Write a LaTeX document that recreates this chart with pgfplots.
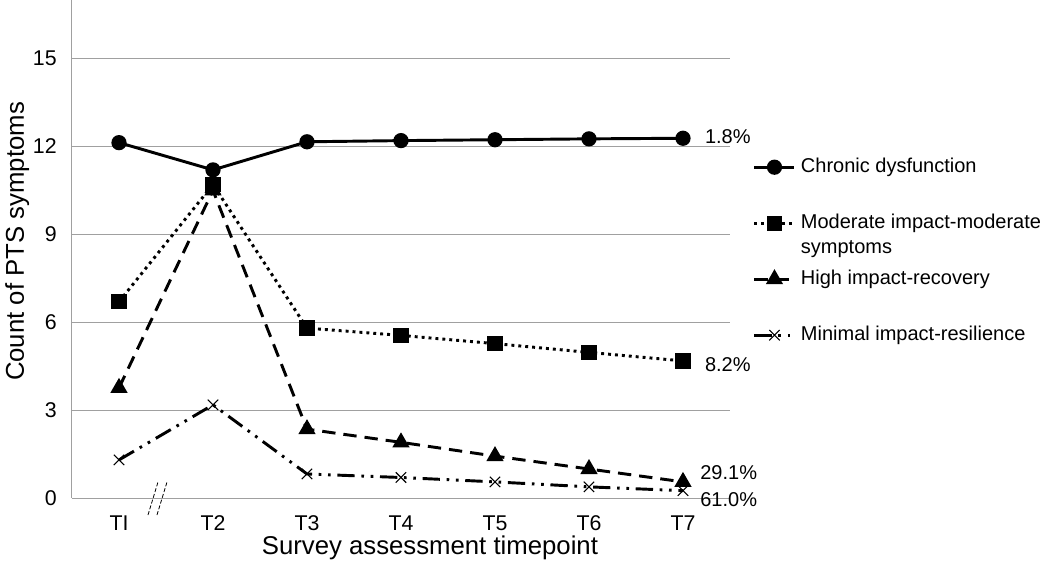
\documentclass[border=0pt]{standalone}
\usepackage{pgfplots}
\pgfplotsset{compat=1.18}
\usepackage{fontspec}
\setmainfont{Liberation Sans}
\definecolor{gridgray}{RGB}{160,160,160}

\begin{document}
\begin{tikzpicture}
\begin{axis}[
  scale only axis, width=493.5pt, height=373.5pt,
  xmin=-0.5, xmax=6.5, ymin=0, ymax=17,
  xtick={0,...,6}, xticklabels={TI,T2,T3,T4,T5,T6,T7},
  ytick={0,3,6,9,12,15},
  ymajorgrids, grid style={gridgray, line width=0.75pt},
  axis x line*=bottom, axis y line*=left,
  axis line style={gridgray, line width=0.75pt, -},
  major tick length=0pt,
  /pgf/number format/assume math mode=true,
  yticklabel style={font=\fontsize{16}{19}\selectfont, xshift=-8pt},
  xticklabel style={font=\fontsize{16}{19}\selectfont, yshift=-10pt},
  xlabel={Survey assessment timepoint},
  ylabel={Count of PTS symptoms},
  every axis x label/.style={at={(axis description cs:0.544,0)}, yshift=-37.5pt, anchor=center, font=\fontsize{19.3}{23}\selectfont},
  every axis y label/.style={at={(axis description cs:0,0.515)}, xshift=-41pt, anchor=center, rotate=90, font=\fontsize{19.3}{23}\selectfont},
  clip=false,
  reverse legend,
  legend cell align=left,
  legend style={at={(axis description cs:1.035,0.683)}, anchor=north west, draw=none, fill=none, inner sep=0pt, outer sep=0pt, row sep=28pt, column sep=3.75pt, font=\fontsize{15}{18.5}\selectfont, nodes={inner sep=0pt, text height=11pt, text depth=3pt}},
  legend image code/.code={\draw[mark repeat=2,mark phase=2,#1] plot coordinates {(0pt,0pt)(15pt,0pt)(30pt,0pt)};},
  every axis plot/.append style={line width=2.2pt, black},
]
% Minimal impact-resilience
\addplot[dash pattern=on 13pt off 5pt on 2pt off 5pt on 2pt off 5pt, mark=x, mark size=5.5pt, mark options={solid, line width=0.8pt}]
  coordinates {(0,1.3) (1,3.18) (2,0.82) (3,0.7) (4,0.55) (5,0.38) (6,0.25)};
\addlegendentry{Minimal impact-resilience}
% High impact-recovery
\addplot[dash pattern=on 10pt off 6pt, mark=triangle*, mark size=5.3pt, mark options={solid}]
  coordinates {(0,3.76) (1,10.5) (2,2.35) (3,1.9) (4,1.43) (5,0.99) (6,0.55)};
\addlegendentry{High impact-recovery}
% Moderate impact-moderate symptoms
\addplot[dash pattern=on 2.2pt off 3pt, mark=square*, mark size=4.6pt, mark options={solid}]
  coordinates {(0,6.7) (1,10.7) (2,5.8) (3,5.55) (4,5.27) (5,4.97) (6,4.68)};
\addlegendentry{\begin{tabular}[t]{@{}l@{}}Moderate impact-moderate\\symptoms\end{tabular}}
% Chronic dysfunction
\addplot[solid, mark=*, mark size=4.6pt, mark options={solid}]
  coordinates {(0,12.13) (1,11.2) (2,12.16) (3,12.2) (4,12.23) (5,12.26) (6,12.28)};
\addlegendentry{Chronic dysfunction}

\node[anchor=west, font=\fontsize{15}{18}\selectfont, xshift=13pt] at (axis cs:6,12.33) {1.8\%};
\node[anchor=west, font=\fontsize{15}{18}\selectfont, xshift=13pt] at (axis cs:6,4.54) {8.2\%};
\node[anchor=west, font=\fontsize{15}{18}\selectfont, xshift=9.5pt] at (axis cs:6,0.85) {29.1\%};
\node[anchor=west, font=\fontsize{15}{18}\selectfont, xshift=9.5pt] at (axis cs:6,-0.07) {61.0\%};

\draw[black, line width=0.6pt, dash pattern=on 3pt off 1.5pt] (axis cs:0.3085,-0.581) -- (axis cs:0.415,0.547);
\draw[black, line width=0.6pt, dash pattern=on 3pt off 1.5pt] (axis cs:0.404,-0.581) -- (axis cs:0.511,0.547);
\end{axis}
\pgfresetboundingbox
\path[use as bounding box] ([xshift=-54pt,yshift=-50.25pt]current axis.south west) rectangle ([xshift=733.5pt,yshift=373.5pt]current axis.south west);
\end{tikzpicture}
\end{document}
